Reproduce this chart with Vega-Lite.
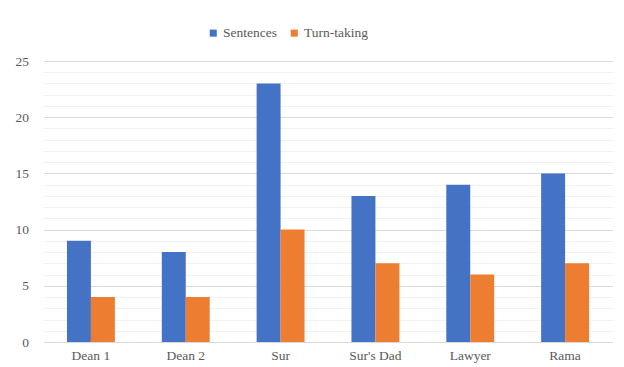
{
  "$schema": "https://vega.github.io/schema/vega-lite/v6.json",
  "autosize": {"type": "none"},
  "width": 569,
  "height": 281,
  "padding": {"left": 43.5, "top": 61, "right": 11.5, "bottom": 25},
  "background": "white",
  "data": {
    "values": [
      {"speaker": "Dean 1", "series": "Sentences", "value": 9},
      {"speaker": "Dean 1", "series": "Turn-taking", "value": 4},
      {"speaker": "Dean 2", "series": "Sentences", "value": 8},
      {"speaker": "Dean 2", "series": "Turn-taking", "value": 4},
      {"speaker": "Sur", "series": "Sentences", "value": 23},
      {"speaker": "Sur", "series": "Turn-taking", "value": 10},
      {"speaker": "Sur's Dad", "series": "Sentences", "value": 13},
      {"speaker": "Sur's Dad", "series": "Turn-taking", "value": 7},
      {"speaker": "Lawyer", "series": "Sentences", "value": 14},
      {"speaker": "Lawyer", "series": "Turn-taking", "value": 6},
      {"speaker": "Rama", "series": "Sentences", "value": 15},
      {"speaker": "Rama", "series": "Turn-taking", "value": 7}
    ]
  },
  "mark": {"type": "bar"},
  "encoding": {
    "x": {
      "field": "speaker",
      "type": "nominal",
      "sort": ["Dean 1", "Dean 2", "Sur", "Sur's Dad", "Lawyer", "Rama"],
      "scale": {"paddingInner": 0.495, "paddingOuter": 0.2475},
      "axis": {
        "title": null,
        "labelAngle": 0,
        "ticks": false,
        "domain": true,
        "domainColor": "#d9d9d9",
        "domainWidth": 1,
        "labelFontSize": 13.5,
        "labelColor": "#595959",
        "labelPadding": 6
      }
    },
    "xOffset": {"field": "series", "type": "nominal", "scale": {"paddingInner": 0, "paddingOuter": 0}},
    "y": {
      "field": "value",
      "type": "quantitative",
      "scale": {"domain": [0, 25], "nice": false},
      "axis": {
        "title": null,
        "values": [0,1,2,3,4,5,6,7,8,9,10,11,12,13,14,15,16,17,18,19,20,21,22,23,24,25],
        "labelExpr": "datum.value % 5 === 0 ? datum.label : ''",
        "ticks": false,
        "domain": false,
        "grid": true,
        "gridColor": {"condition": {"test": "datum.value % 5 === 0", "value": "#d9d9d9"}, "value": "#f2f2f2"},
        "gridWidth": 1,
        "labelFontSize": 13.5,
        "labelColor": "#595959",
        "labelPadding": 15
      }
    },
    "color": {
      "field": "series",
      "type": "nominal",
      "scale": {"domain": ["Sentences", "Turn-taking"], "range": ["#4472C4", "#ED7D31"]},
      "legend": {
        "title": null,
        "orient": "none",
        "direction": "horizontal",
        "legendX": 163,
        "legendY": -35,
        "symbolType": "square",
        "symbolSize": 50,
        "symbolStrokeWidth": 0,
        "labelFontSize": 13.5,
        "labelColor": "#595959",
        "labelOffset": 3,
        "columnPadding": 10
      }
    }
  },
  "config": {
    "view": {"stroke": null},
    "font": "Liberation Serif, DejaVu Serif, serif",
    "axis": {"labelFont": "Liberation Serif, DejaVu Serif, serif"},
    "legend": {"labelFont": "Liberation Serif, DejaVu Serif, serif"}
  }
}
